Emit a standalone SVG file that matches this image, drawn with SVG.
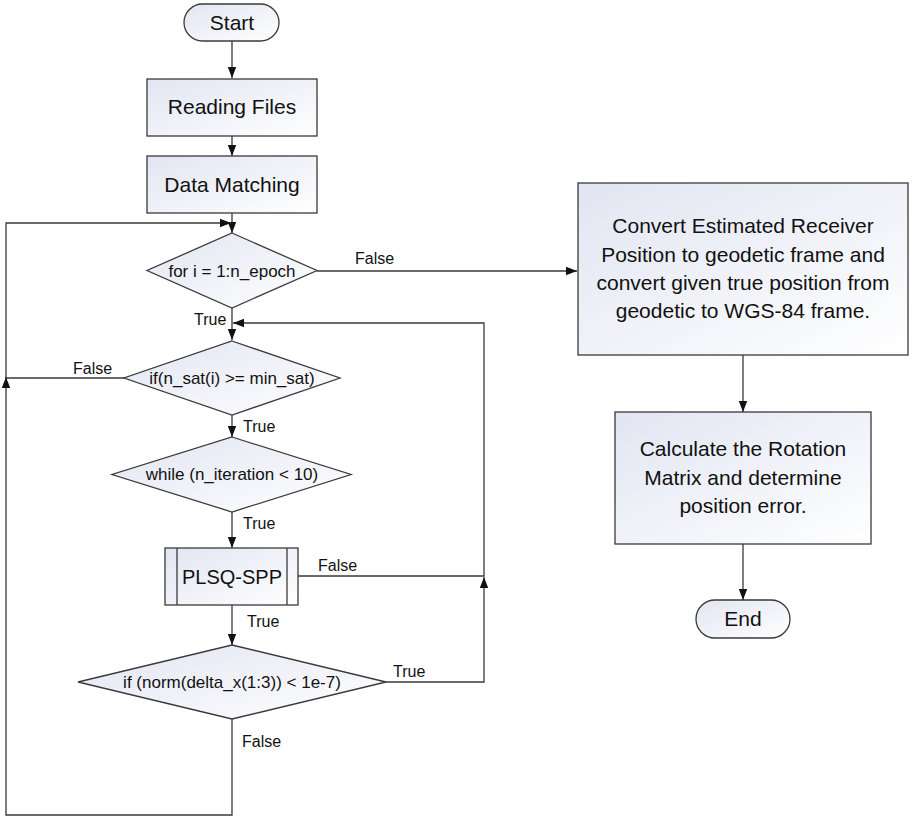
<svg xmlns="http://www.w3.org/2000/svg" width="919" height="817" viewBox="0 0 919 817">
<defs>
<linearGradient id="g" x1="0" y1="0" x2="1" y2="1">
<stop offset="0" stop-color="#e2e5f2"/>
<stop offset="1" stop-color="#ffffff"/>
</linearGradient>
<marker id="a" markerUnits="userSpaceOnUse" markerWidth="12" markerHeight="10" viewBox="0 0 12 10" refX="11" refY="5" orient="auto">
<path d="M0,0.8 L11,5 L0,9.2 Z" fill="#111"/>
</marker>
<style>
.s{fill:url(#g);stroke:#3a3a3a;stroke-width:1.3}
.c{fill:none;stroke:#3a3a3a;stroke-width:1.3}
.t{font-family:"Liberation Sans",Arial,sans-serif;fill:#111;text-anchor:middle}
.b{font-size:21px}
.d{font-size:17px}
.l{font-family:"Liberation Sans",Arial,sans-serif;fill:#111;font-size:16px}
</style>
</defs>
<rect width="919" height="817" fill="#fff"/>
<g id="connectors">
<path class="c" d="M232,41 V78" marker-end="url(#a)"/>
<path class="c" d="M232,136 V156" marker-end="url(#a)"/>
<path class="c" d="M232,213 V233" marker-end="url(#a)"/>
<path class="c" d="M317,271 H577" marker-end="url(#a)"/>
<path class="c" d="M232,308 V340" marker-end="url(#a)"/>
<path class="c" d="M124,378 H6 V223 H231" marker-end="url(#a)"/>
<path class="c" d="M232,415 V437" marker-end="url(#a)"/>
<path class="c" d="M232,512 V548" marker-end="url(#a)"/>
<path class="c" d="M298,576 H484 V323 H233" marker-end="url(#a)"/>
<path class="c" d="M232,605 V645" marker-end="url(#a)"/>
<path class="c" d="M386,682 H484 V577" marker-end="url(#a)"/>
<path class="c" d="M232,719 V815 H6 V377" marker-end="url(#a)"/>
<path class="c" d="M743,355 V412" marker-end="url(#a)"/>
<path class="c" d="M743,544 V600" marker-end="url(#a)"/>
<text class="l" x="355" y="264">False</text>
<text class="l" x="194" y="325">True</text>
<text class="l" x="73" y="374">False</text>
<text class="l" x="243" y="432">True</text>
<text class="l" x="243" y="529">True</text>
<text class="l" x="318" y="571">False</text>
<text class="l" x="247" y="627">True</text>
<text class="l" x="393" y="677">True</text>
<text class="l" x="242" y="747">False</text>
</g>
<g id="start">
<rect class="s" x="184" y="4" width="95" height="37" rx="18.5"/>
<text class="t b" x="232" y="30">Start</text>
</g>
<g id="reading">
<rect class="s" x="147" y="79" width="170" height="57"/>
<text class="t b" x="232" y="114">Reading Files</text>
</g>
<g id="matching">
<rect class="s" x="147" y="156" width="170" height="57"/>
<text class="t b" x="232" y="192">Data Matching</text>
</g>
<g id="forloop">
<polygon class="s" points="232,233 317,270.5 232,308 147,270.5"/>
<text class="t d" x="232" y="277">for i = 1:n_epoch</text>
</g>
<g id="nsat">
<polygon class="s" points="232,341 340,378 232,415 124,378"/>
<text class="t d" x="232" y="384">if(n_sat(i) &gt;= min_sat)</text>
</g>
<g id="while">
<polygon class="s" points="232,437 351,474.5 232,512 112,474.5"/>
<text class="t d" x="232" y="480">while (n_iteration &lt; 10)</text>
</g>
<g id="plsq">
<rect class="s" x="165" y="548" width="133" height="57"/>
<line class="c" x1="177" y1="548" x2="177" y2="605"/>
<line class="c" x1="287" y1="548" x2="287" y2="605"/>
<text class="t b" x="232" y="584" style="font-size:20px">PLSQ-SPP</text>
</g>
<g id="norm">
<polygon class="s" points="232,645 386,682 232,719 78,682"/>
<text class="t d" x="232" y="688">if (norm(delta_x(1:3)) &lt; 1e-7)</text>
</g>
<g id="convert">
<rect class="s" x="578" y="183" width="330" height="172"/>
<text class="t b" x="743" y="233">Convert Estimated Receiver</text>
<text class="t b" x="743" y="262">Position to geodetic frame and</text>
<text class="t b" x="743" y="290">convert given true position from</text>
<text class="t b" x="743" y="318">geodetic to WGS-84 frame.</text>
</g>
<g id="calc">
<rect class="s" x="615" y="412" width="256" height="132"/>
<text class="t b" x="743" y="456">Calculate the Rotation</text>
<text class="t b" x="743" y="485">Matrix and determine</text>
<text class="t b" x="743" y="513">position error.</text>
</g>
<g id="end">
<rect class="s" x="696" y="600" width="94" height="38" rx="19"/>
<text class="t b" x="743" y="626">End</text>
</g>
</svg>
